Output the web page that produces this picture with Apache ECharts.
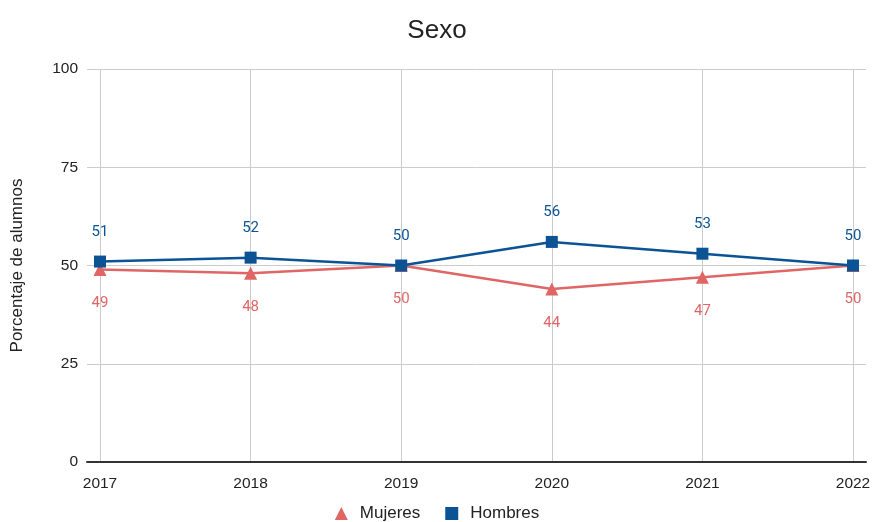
<!DOCTYPE html>
<html>
<head>
<meta charset="utf-8">
<script src="https://cdn.jsdelivr.net/npm/echarts@6/dist/echarts.min.js"></script>
<style>html,body{margin:0;padding:0;background:#fff}#c{width:874px;height:522px}</style>
</head>
<body>
<div id="c"></div>
<script>
const years = ['2017', '2018', '2019', '2020', '2021', '2022'];
const mujeres = [49, 48, 50, 44, 47, 50];
const hombres = [51, 52, 50, 56, 53, 50];
const yTicks = [0, 25, 50, 75, 100];

const RED = '#e06666';
const BLUE = '#0b5394';
const FONT = '"Liberation Sans", Arial, sans-serif';

const chart = echarts.init(document.getElementById('c'), null, {renderer: 'canvas'});
chart.setOption({
  animation: false,
  backgroundColor: '#fff',
  title: {
    text: 'Sexo', left: 'center', top: 13,
    textStyle: {fontFamily: FONT, fontSize: 26, fontWeight: 'normal', color: '#222'}
  },
  legend: {
    bottom: -5, left: 'center', itemWidth: 13, itemHeight: 13, itemGap: 25,
    textStyle: {fontFamily: FONT, fontSize: 17, color: '#222', padding: [0, 0, 0, 7]},
    data: [{name: 'Mujeres', icon: 'triangle'}, {name: 'Hombres', icon: 'rect'}]
  },
  grid: [
    {left: 100, right: 21, top: 69, bottom: 60, outerBoundsMode: 'none', containLabel: false},
    {left: 87, right: 8, top: 69, bottom: 60, outerBoundsMode: 'none', containLabel: false}
  ],
  xAxis: [
    {
      gridIndex: 0, type: 'category', data: years, boundaryGap: false,
      axisLine: {show: false}, axisTick: {show: false},
      axisLabel: {margin: 14, fontFamily: FONT, fontSize: 15.5, color: '#222'},
      splitLine: {show: true, lineStyle: {color: '#cccccc', width: 1}}
    },
    {
      gridIndex: 1, type: 'value', min: 0, max: 1, show: true,
      axisLine: {show: true, lineStyle: {color: '#333', width: 2}}, axisTick: {show: false},
      axisLabel: {show: false}, splitLine: {show: false}, z: 10
    }
  ],
  yAxis: [
    {
      gridIndex: 0, type: 'value', min: yTicks[0], max: yTicks[yTicks.length - 1], interval: 25,
      show: false, splitLine: {show: false}
    },
    {
      gridIndex: 1, type: 'value', min: yTicks[0], max: yTicks[yTicks.length - 1], interval: 25,
      axisLine: {show: false}, axisTick: {show: false},
      axisLabel: {margin: 9, fontFamily: FONT, fontSize: 15.5, color: '#222'},
      splitLine: {show: true, lineStyle: {color: '#cccccc', width: 1}},
      name: 'Porcentaje de alumnos', nameLocation: 'middle', nameGap: 61,
      nameTextStyle: {fontFamily: FONT, fontSize: 17, color: '#222'}
    }
  ],
  series: [
    {
      name: 'Mujeres', type: 'line', xAxisIndex: 0, yAxisIndex: 0, data: mujeres,
      symbol: 'triangle', symbolSize: 13, z: 3,
      lineStyle: {color: RED, width: 2.5}, itemStyle: {color: RED},
      label: {show: true, position: 'bottom', distance: 20, color: RED, fontFamily: 'Roboto, sans-serif', fontSize: 15}
    },
    {
      name: 'Hombres', type: 'line', xAxisIndex: 0, yAxisIndex: 0, data: hombres,
      symbol: 'rect', symbolSize: 12, z: 4,
      lineStyle: {color: BLUE, width: 2.5}, itemStyle: {color: BLUE},
      label: {show: true, position: 'top', distance: 16, color: BLUE, fontFamily: 'Roboto, sans-serif', fontSize: 15}
    }
  ]
});
</script>
</body>
</html>
